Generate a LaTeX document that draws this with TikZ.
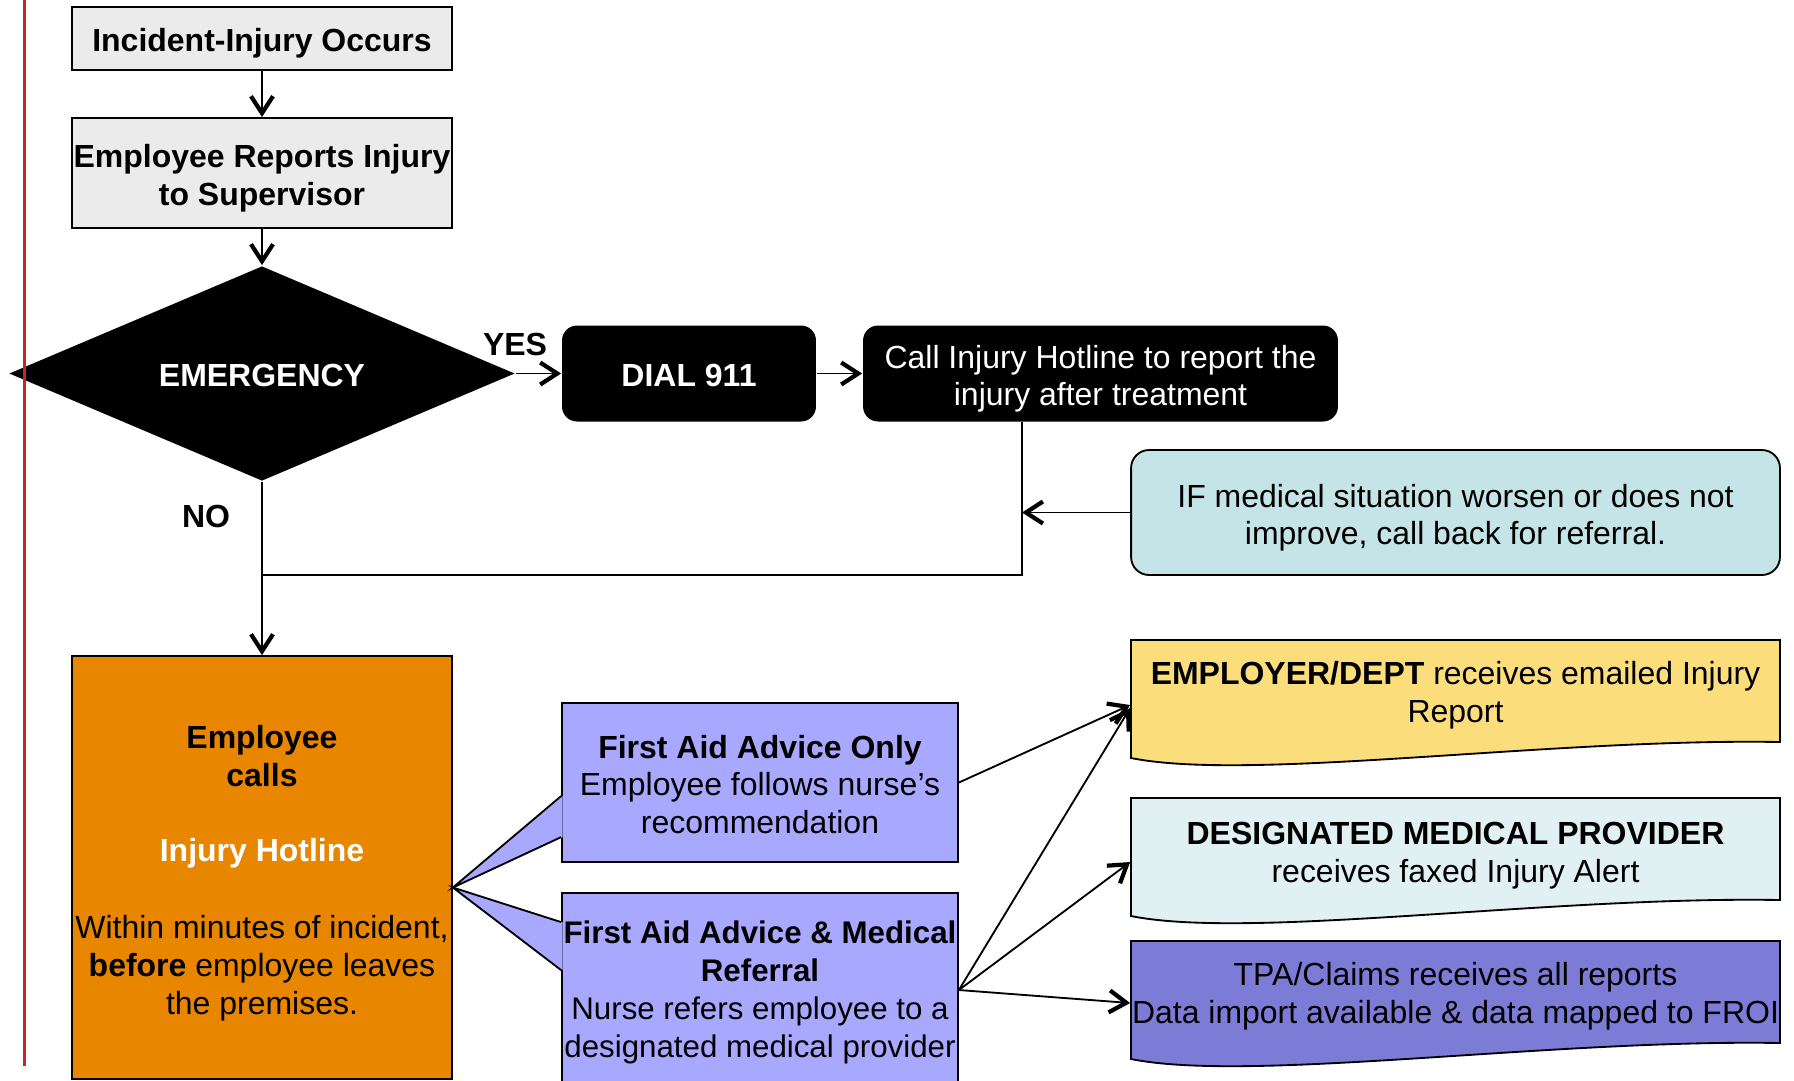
\documentclass[tikz,border=0pt]{standalone}
\usepackage{fontspec}
\setmainfont{Liberation Sans}
\usetikzlibrary{shapes.geometric,arrows.meta,calc}
\definecolor{boxgray}{HTML}{EBEBEB}
\definecolor{hotorange}{HTML}{E88600}
\definecolor{advblue}{HTML}{A8A8FF}
\definecolor{ifteal}{HTML}{C4E4E7}
\definecolor{empyellow}{HTML}{FBDE7B}
\definecolor{dmpblue}{HTML}{E0F0F3}
\definecolor{tpapurple}{HTML}{7C7CD6}
\definecolor{marginred}{HTML}{C8232C}
% lowers the text a little inside its box
\newcommand\topstrut[1][1.05]{\rule[-0.212em]{0pt}{\dimexpr#1em+0.212em\relax}}

\begin{document}
\begin{tikzpicture}[x=0.02cm,y=-0.02cm,line width=1.05pt,
		font=\fontsize{18.2}{21.6}\selectfont,
		>={Straight Barb[length=3.4mm,width=4.4mm,line width=2.4pt]},
		greybox/.style={draw,fill=boxgray,minimum width=7.6cm,align=center,inner sep=0pt,font=\fontsize{18.2}{21.6}\selectfont\bfseries},
		blackbox/.style={fill=black,text=white,rounded corners=0.3cm,minimum height=1.92cm,align=center,inner sep=0pt},
		advice/.style={draw,fill=advblue,minimum width=7.92cm,align=center,inner sep=0pt},
		docnode/.style={minimum width=12.98cm,minimum height=2.08cm,align=center,inner sep=0pt}]
		\useasboundingbox (0,0) rectangle (1794,1080);
		\clip (0,0) rectangle (1794,1080);
		% left column
		\node (inc) at (262,38.5)[greybox,minimum height=1.26cm]{\topstrut Incident-Injury Occurs};
		\node (rep) at (262,173)[greybox,minimum height=2.2cm]{\topstrut Employee Reports Injury\\to Supervisor};
		\node (emg) at (262,373.5)[diamond,fill=black,text=white,shape aspect=2.35,minimum width=10.12cm,minimum height=4.3cm,inner sep=0pt,font=\fontsize{18.2}{21.6}\selectfont\bfseries]{\topstrut EMERGENCY};
		\node (hot) at (262,867.5)[draw,fill=hotorange,minimum width=7.6cm,minimum height=8.46cm,align=center,inner sep=0pt]{\topstrut[1.1]\textbf{Employee}\\\textbf{calls}\\[0.74cm]\textcolor{white}{\textbf{Injury Hotline}}\\[0.78cm]Within minutes of incident,\\\textbf{before} employee leaves\\the premises.};
		\node (yes) at (515,344){\bfseries YES};
		\node (no) at (206,516){\bfseries NO};
		% emergency row
		\node (dial) at (689,373.5)[blackbox,minimum width=5.08cm,font=\fontsize{18.2}{21.6}\selectfont\bfseries]{\topstrut DIAL 911};
		\node (call) at (1100.5,373.5)[blackbox,minimum width=9.5cm]{\topstrut Call Injury Hotline to report the\\injury after treatment};
		\node (iff) at (1455.5,512.5)[draw,fill=ifteal,rounded corners=0.36cm,minimum width=12.98cm,minimum height=2.5cm,align=center,inner sep=0pt]{\topstrut IF medical situation worsen or does not\\improve, call back for referral.};
		% nurse advice
		\node (fa1) at (760,782.5)[advice,minimum height=3.18cm]{\topstrut[0.85]\textbf{First Aid Advice Only}\\Employee follows nurse’s\\recommendation};
		\node (fa2) at (760,990)[advice,minimum height=3.88cm,font=\fontsize{17.8}{21.6}\selectfont]{\topstrut[0.9]\textbf{First Aid Advice \& Medical}\\\textbf{Referral}\\Nurse refers employee to a\\designated medical provider};
		\coordinate (tip) at ($(hot.east)+(0,20)$);
		\fill[advblue] ($(fa1.north west)+(1.5,94)$) -- (tip) -- ($(fa1.north west)+(1.5,135)$) -- cycle;
		\draw ($(fa1.north west)+(0,94)$) -- (tip) -- ($(fa1.north west)+(0,135)$);
		\fill[advblue] ($(fa2.north west)+(1.5,30)$) -- (tip) -- ($(fa2.north west)+(1.5,78)$) -- cycle;
		\draw ($(fa2.north west)+(0,30)$) -- (tip) -- ($(fa2.north west)+(0,78)$);
		% reports
		\foreach \t/\c in {640/empyellow,798/dmpblue,941/tpapurple}{
			\draw[fill=\c] (1131,\t) -- (1780,\t) -- (1780,\t+102) .. controls (1550,\t+98) and (1250,\t+142) .. (1131,\t+118) -- cycle;
		}
		\node (emp) at (1455.5,692)[docnode]{\topstrut[0.9]\textbf{EMPLOYER/DEPT} receives emailed Injury\\Report};
		\node (dmp) at (1455.5,850)[docnode]{\topstrut\textbf{DESIGNATED MEDICAL PROVIDER}\\receives faxed Injury Alert};
		\node (tpa) at (1455.5,993)[docnode]{\topstrut[0.9]TPA/Claims receives all reports\\Data import available \& data mapped to FROI};
		% connectors
		\draw[->] (inc)--(rep);
		\draw[->] (rep)--(emg);
		\draw[->] (emg)--(dial);
		\draw[->] (dial)--(call);
		\coordinate (j1) at (1022,575);
		\coordinate (j2) at (262,575);
		\draw (call.south -| j1)--(j1)--(j2);
		\draw[->] (iff.west)--(iff.west -| j1);
		\draw[->] (emg)--(hot);
		\draw[->] (fa1.east)--($(emp.west)+(0,13)$);
		\foreach \d/\s in {emp/16,dmp/12,tpa/10}{
			\draw[->] (fa2.east)--($(\d.west)+(0,\s)$);
		}
		\draw[marginred,line width=0.06cm] (24,0)--(24,1066);
	\end{tikzpicture}
\end{document}
